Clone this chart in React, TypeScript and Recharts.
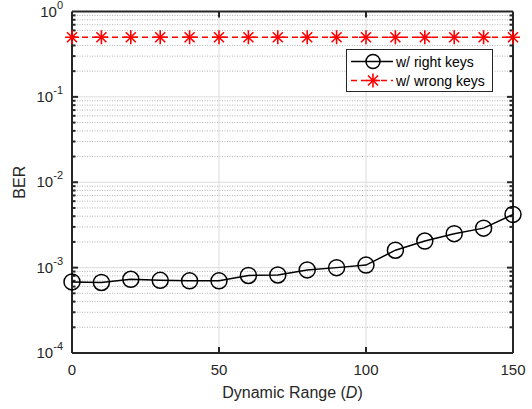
import {
  Line,
  LineChart,
  ReferenceLine,
  XAxis,
  YAxis,
} from "recharts";

const dynamicRange = [0, 10, 20, 30, 40, 50, 60, 70, 80, 90, 100, 110, 120, 130, 140, 150];
const berRightKeys = [
  6.8e-4, 6.7e-4, 7.3e-4, 7.1e-4, 7.0e-4, 7.0e-4, 8.1e-4, 8.2e-4,
  9.4e-4, 1.0e-3, 1.07e-3, 1.6e-3, 2.05e-3, 2.5e-3, 2.9e-3, 4.2e-3,
];
const berWrongKeys = [
  0.5, 0.5, 0.5, 0.5, 0.5, 0.5, 0.5, 0.5,
  0.5, 0.5, 0.5, 0.5, 0.5, 0.5, 0.5, 0.5,
];
const xTicks = [0, 50, 100, 150];
const xGrid = [50, 100];
const decadeTicks = [1e-4, 1e-3, 1e-2, 1e-1, 1];
const decadeExponents = ["-4", "-3", "-2", "-1", "0"];
const yGrid = [1e-3, 1e-2, 1e-1];
const minorTicks = [
  2e-4, 3e-4, 4e-4, 5e-4, 6e-4, 7e-4, 8e-4, 9e-4,
  2e-3, 3e-3, 4e-3, 5e-3, 6e-3, 7e-3, 8e-3, 9e-3,
  2e-2, 3e-2, 4e-2, 5e-2, 6e-2, 7e-2, 8e-2, 9e-2,
  0.2, 0.3, 0.4, 0.5, 0.6, 0.7, 0.8, 0.9,
];
const seriesNames = ["w/ right keys", "w/ wrong keys"];

const data = dynamicRange.map((d, i) => ({
  d,
  right: berRightKeys[i],
  wrong: berWrongKeys[i],
}));

const AXIS = "#262626";
const FONT = "Liberation Sans, Arial, sans-serif";

// grid line plus inward tick marks at both ends of the box
function GridWithTicks(props: any) {
  const { x1, y1, x2, y2, stroke, strokeDasharray, tickLen } = props;
  const horizontal = Math.abs(y1 - y2) < 0.5;
  const lo = horizontal ? Math.min(x1, x2) : Math.min(y1, y2);
  const hi = horizontal ? Math.max(x1, x2) : Math.max(y1, y2);
  return (
    <g>
      <line x1={x1} y1={y1} x2={x2} y2={y2} stroke={stroke} strokeDasharray={strokeDasharray} strokeWidth={1} />
      {horizontal ? (
        <g stroke={AXIS} strokeWidth={2}>
          <line x1={lo} x2={lo + tickLen} y1={y1} y2={y1} />
          <line x1={hi} x2={hi - tickLen} y1={y1} y2={y1} />
        </g>
      ) : (
        <g stroke={AXIS} strokeWidth={2}>
          <line x1={x1} x2={x1} y1={lo} y2={lo + tickLen} />
          <line x1={x1} x2={x1} y1={hi} y2={hi - tickLen} />
        </g>
      )}
    </g>
  );
}

function LeftTick({ x, y, payload }: any) {
  const idx = decadeTicks.indexOf(payload.value);
  return (
    <text x={x - 1} y={y + 5} textAnchor="end" fontSize={15} fill={AXIS} fontFamily={FONT}>
      10
      <tspan fontSize={11} dy={-8}>
        {decadeExponents[idx]}
      </tspan>
    </text>
  );
}

function BottomTick({ x, y, payload }: any) {
  return (
    <text x={x} y={y + 22} textAnchor="middle" fontSize={15} fill={AXIS} fontFamily={FONT}>
      {payload.value}
    </text>
  );
}

function CircleDot({ cx, cy }: any) {
  if (cx == null || cy == null) return null;
  return <circle cx={cx} cy={cy} r={8} fill="none" stroke="#000" strokeWidth={1.5} />;
}

function StarDot({ cx, cy }: any) {
  if (cx == null || cy == null) return null;
  const r = 7;
  const d = 5;
  return (
    <g stroke="#ff0000" strokeWidth={1.6}>
      <line x1={cx - r} x2={cx + r} y1={cy} y2={cy} />
      <line x1={cx} x2={cx} y1={cy - r} y2={cy + r} />
      <line x1={cx - d} x2={cx + d} y1={cy - d} y2={cy + d} />
      <line x1={cx - d} x2={cx + d} y1={cy + d} y2={cy - d} />
    </g>
  );
}

function XLabel({ viewBox }: any) {
  const cx = viewBox.x + viewBox.width / 2;
  return (
    <text x={cx} y={398} textAnchor="middle" fontSize={16} fill={AXIS} fontFamily={FONT}>
      Dynamic Range (<tspan fontStyle="italic">D</tspan>)
    </text>
  );
}

function LegendBox() {
  return (
    <div
      style={{
        position: "absolute",
        left: 346,
        top: 49,
        width: 147,
        height: 43,
        border: `1px solid ${AXIS}`,
        background: "#fff",
        boxSizing: "border-box",
        fontFamily: FONT,
        fontSize: 14,
        color: "#000",
        padding: "2px 0 0 4px",
      }}
    >
      <div style={{ display: "flex", alignItems: "center", height: 19 }}>
        <svg width={42} height={19}>
          <line x1={0} x2={42} y1={9.5} y2={9.5} stroke="#000" strokeWidth={1.5} />
          <circle cx={22} cy={9.5} r={7} fill="none" stroke="#000" strokeWidth={1.5} />
        </svg>
        <span style={{ marginLeft: 3 }}>{seriesNames[0]}</span>
      </div>
      <div style={{ display: "flex", alignItems: "center", height: 19 }}>
        <svg width={42} height={19}>
          <line x1={0} x2={42} y1={9.5} y2={9.5} stroke="#ff0000" strokeWidth={1.5} strokeDasharray="6 4" />
          <StarDot cx={22} cy={9.5} />
        </svg>
        <span style={{ marginLeft: 3 }}>{seriesNames[1]}</span>
      </div>
    </div>
  );
}

export default function App() {
  return (
    <div style={{ position: "absolute", left: 0, top: 0, width: 532, height: 409, background: "#fff" }}>
      <LineChart
        width={532}
        height={409}
        data={data}
        margin={{ top: 11.5, right: 19, bottom: 26, left: 0 }}
      >
        {minorTicks.map((v) => (
          <ReferenceLine
            key={`m${v}`}
            y={v}
            stroke="#b4b4b4"
            strokeDasharray="1 1.5"
            shape={(p: any) => <GridWithTicks {...p} tickLen={3.5} />}
          />
        ))}
        {yGrid.map((v) => (
          <ReferenceLine
            key={`y${v}`}
            y={v}
            stroke="#dcdcdc"
            shape={(p: any) => <GridWithTicks {...p} tickLen={6} />}
          />
        ))}
        {xGrid.map((v) => (
          <ReferenceLine
            key={`x${v}`}
            x={v}
            stroke="#dcdcdc"
            shape={(p: any) => <GridWithTicks {...p} tickLen={6} />}
          />
        ))}
        <ReferenceLine x={0} stroke={AXIS} strokeWidth={2} />
        <ReferenceLine x={150} stroke={AXIS} strokeWidth={2} />
        <ReferenceLine y={1e-4} stroke={AXIS} strokeWidth={2} />
        <ReferenceLine y={1} stroke={AXIS} strokeWidth={2} />
        <Line
          dataKey="right"
          stroke="#000"
          strokeWidth={1.5}
          dot={<CircleDot />}
          activeDot={false}
          isAnimationActive={false}
        />
        <Line
          dataKey="wrong"
          stroke="#ff0000"
          strokeWidth={1.5}
          strokeDasharray="6 4"
          dot={<StarDot />}
          activeDot={false}
          isAnimationActive={false}
        />
        <XAxis
          dataKey="d"
          type="number"
          domain={[0, 150]}
          ticks={xTicks}
          height={30}
          tickSize={0}
          tickMargin={0}
          tick={<BottomTick />}
          tickLine={false}
          axisLine={false}
          label={<XLabel />}
        />
        <YAxis
          scale="log"
          domain={[1e-4, 1]}
          ticks={decadeTicks}
          width={72}
          tickSize={0}
          tickMargin={8}
          tick={<LeftTick />}
          tickLine={false}
          interval={0}
          allowDataOverflow
          axisLine={false}
          label={{
            value: "BER",
            angle: -90,
            position: "insideLeft",
            dx: 14,
            style: { fontSize: 16, fill: AXIS, fontFamily: FONT, textAnchor: "middle" },
          }}
        />
      </LineChart>
      <LegendBox />
    </div>
  );
}
